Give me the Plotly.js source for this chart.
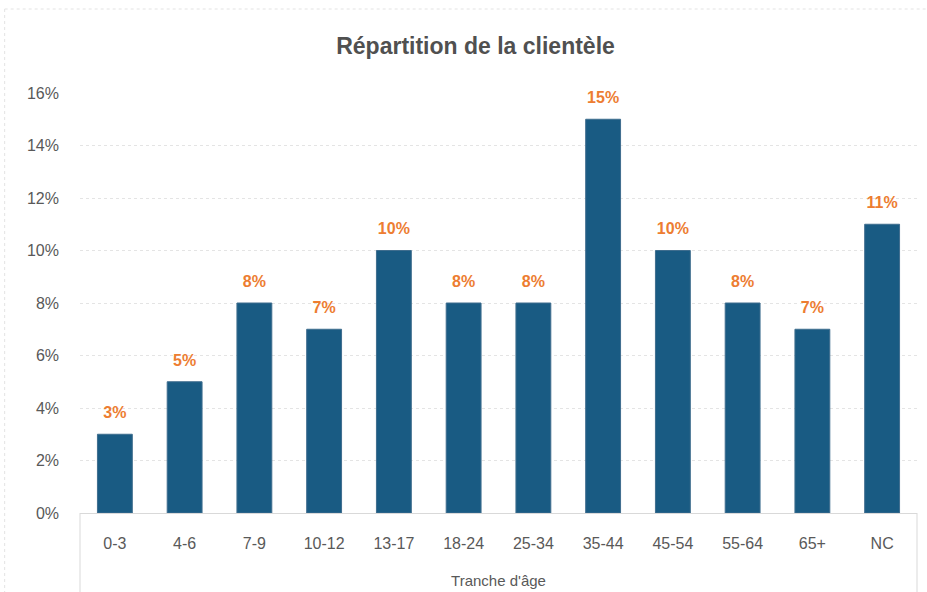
<!DOCTYPE html>
<html>
<head>
<meta charset="utf-8">
<script src="https://cdn.plot.ly/plotly-3.0.1.min.js"></script>
<style>
	body { margin: 0; background: #fff; }
	#chart { width: 927px; height: 592px; }
</style>
</head>
<body>
<div id="chart"></div>
<script>
"use strict";
// tranches d'âge et part de clientèle
var tranches = ['0-3', '4-6', '7-9', '10-12', '13-17', '18-24', '25-34', '35-44', '45-54', '55-64', '65+', 'NC'];
var parts = [0.03, 0.05, 0.08, 0.07, 0.10, 0.08, 0.08, 0.15, 0.10, 0.08, 0.07, 0.11];
var yTicks = [0, 0.02, 0.04, 0.06, 0.08, 0.10, 0.12, 0.14, 0.16];

var grey = '#595959';
var font = 'Liberation Sans, Arial, sans-serif';

var bars = {
	x: tranches,
	y: parts,
	type: 'bar',
	marker: {
		color: '#195b83',
		line: { color: '#3f6d8e', width: 1 }
	},
	hoverinfo: 'skip'
};

// étiquettes de données, placées un peu au-dessus des barres
var labels = {
	x: tranches,
	y: parts,
	type: 'scatter',
	mode: 'text+markers',
	marker: { size: 18, opacity: 0 },
	text: parts.map(function(v) { return Math.round(v * 100) + '%'; }),
	textposition: 'top center',
	cliponaxis: false,
	textfont: { family: font, size: 16, color: '#ed7d31', weight: 'bold' },
	hoverinfo: 'skip'
};

var layout = {
	width: 927,
	height: 592,
	margin: { l: 80, r: 10, t: 93, b: 79 },
	paper_bgcolor: '#fff',
	plot_bgcolor: '#fff',
	showlegend: false,
	bargap: 0.5,
	title: {
		text: '<b>Répartition de la clientèle</b>',
		font: { family: font, size: 23, color: '#505050' },
		x: 0.513,
		xanchor: 'center',
		y: 0.922,
		yanchor: 'middle'
	},
	xaxis: {
		type: 'category',
		range: [-0.5, tranches.length - 0.5],
		showgrid: false,
		zeroline: false,
		showline: true,
		linecolor: '#d9d9d9',
		linewidth: 1,
		ticks: '',
		ticklabelstandoff: 16,
		tickfont: { family: font, size: 16, color: grey },
		title: {
			text: "Tranche d'âge",
			font: { family: font, size: 15, color: grey },
			standoff: 24
		}
	},
	yaxis: {
		range: [0, 0.16],
		tickvals: yTicks,
		tickformat: '.0%',
		showgrid: true,
		gridcolor: '#e4e4e4',
		griddash: 'dot',
		gridwidth: 1,
		zeroline: false,
		showline: false,
		ticks: '',
		ticklabelstandoff: 20,
		tickfont: { family: font, size: 16, color: grey }
	},
	shapes: [
		// cadre de l'axe des catégories
		{ type: 'line', xref: 'paper', yref: 'paper', x0: 0, x1: 0, y0: 0, y1: -0.2, line: { color: '#d9d9d9', width: 1 } },
		{ type: 'line', xref: 'paper', yref: 'paper', x0: 1, x1: 1, y0: 0, y1: -0.2, line: { color: '#d9d9d9', width: 1 } },
		// bordure du graphique
		{ type: 'line', xref: 'paper', yref: 'paper', x0: -0.09, x1: 1.02, y0: 1.2, y1: 1.2, line: { color: '#e3e3e3', width: 1, dash: 'dot' } },
		{ type: 'line', xref: 'paper', yref: 'paper', x0: -0.09, x1: -0.09, y0: 1.2, y1: -0.2, line: { color: '#e3e3e3', width: 1, dash: 'dot' } }
	]
};

Plotly.newPlot(document.getElementById('chart'), [bars, labels], layout, { displayModeBar: false, staticPlot: true });
</script>
</body>
</html>
